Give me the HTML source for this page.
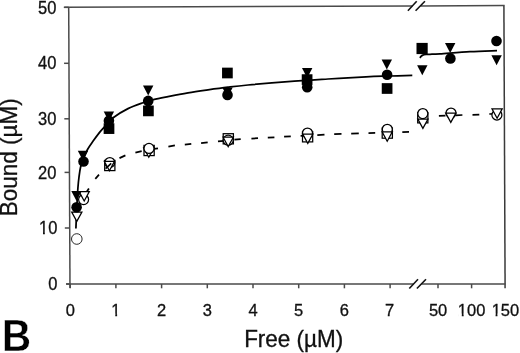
<!DOCTYPE html>
<html><head><meta charset="utf-8"><style>
html,body{margin:0;padding:0;background:#fff;}
body{width:520px;height:353px;overflow:hidden;font-family:"Liberation Sans",sans-serif;}
svg{display:block;}
</style></head><body>
<svg width="520" height="353" viewBox="0 0 520 353" style="will-change:transform">
<rect width="520" height="353" fill="#fff"/>
<line x1="68.7" y1="7.3" x2="70.0" y2="288" stroke="#4a4a4a" stroke-width="1.5"/>
<line x1="503.9" y1="5.6" x2="505.1" y2="288.3" stroke="#3a3a3a" stroke-width="1.5"/>
<line x1="64.3" y1="7.3" x2="412.3" y2="6.05" stroke="#4a4a4a" stroke-width="1.5"/>
<line x1="420.5" y1="6.0" x2="504.6" y2="5.6" stroke="#4a4a4a" stroke-width="1.5"/>
<line x1="66.2" y1="284" x2="413.6" y2="284" stroke="#4a4a4a" stroke-width="1.5"/>
<line x1="421.4" y1="284" x2="505.5" y2="284" stroke="#4a4a4a" stroke-width="1.5"/>
<line x1="409.3" y1="288.5" x2="418.0" y2="279.2" stroke="#111" stroke-width="1.6"/>
<line x1="416.9" y1="288.5" x2="426.0" y2="279.2" stroke="#111" stroke-width="1.6"/>
<line x1="407.9" y1="10.8" x2="416.7" y2="1.3" stroke="#111" stroke-width="1.6"/>
<line x1="415.6" y1="10.8" x2="424.9" y2="1.3" stroke="#111" stroke-width="1.6"/>
<line x1="63.80" y1="7.35" x2="68.70" y2="7.35" stroke="#4a4a4a" stroke-width="1.5"/>
<line x1="64.06" y1="63.3" x2="68.96" y2="63.3" stroke="#4a4a4a" stroke-width="1.5"/>
<line x1="64.32" y1="118.8" x2="69.22" y2="118.8" stroke="#4a4a4a" stroke-width="1.5"/>
<line x1="64.56" y1="172.4" x2="69.46" y2="172.4" stroke="#4a4a4a" stroke-width="1.5"/>
<line x1="64.82" y1="228.0" x2="69.72" y2="228.0" stroke="#4a4a4a" stroke-width="1.5"/>
<line x1="65.98" y1="284" x2="69.98" y2="284" stroke="#4a4a4a" stroke-width="1.5"/>
<line x1="70.20" y1="284" x2="70.20" y2="288.3" stroke="#4a4a4a" stroke-width="1.5"/>
<line x1="115.90" y1="284" x2="115.90" y2="288.3" stroke="#4a4a4a" stroke-width="1.5"/>
<line x1="161.60" y1="284" x2="161.60" y2="288.3" stroke="#4a4a4a" stroke-width="1.5"/>
<line x1="207.30" y1="284" x2="207.30" y2="288.3" stroke="#4a4a4a" stroke-width="1.5"/>
<line x1="253.00" y1="284" x2="253.00" y2="288.3" stroke="#4a4a4a" stroke-width="1.5"/>
<line x1="298.70" y1="284" x2="298.70" y2="288.3" stroke="#4a4a4a" stroke-width="1.5"/>
<line x1="344.40" y1="284" x2="344.40" y2="288.3" stroke="#4a4a4a" stroke-width="1.5"/>
<line x1="390.10" y1="284" x2="390.10" y2="288.3" stroke="#4a4a4a" stroke-width="1.5"/>
<line x1="438.00" y1="284" x2="438.00" y2="288.3" stroke="#4a4a4a" stroke-width="1.5"/>
<line x1="471.60" y1="284" x2="471.60" y2="288.3" stroke="#4a4a4a" stroke-width="1.5"/>
<text transform="translate(56.40,13.85) scale(1.0,1.07)" font-family="&quot;Liberation Sans&quot;, sans-serif" font-size="16.5" text-anchor="end" fill="#111" stroke="#111" stroke-width="0.3">50</text>
<text transform="translate(56.40,69.40) scale(1.0,1.07)" font-family="&quot;Liberation Sans&quot;, sans-serif" font-size="16.5" text-anchor="end" fill="#111" stroke="#111" stroke-width="0.3">40</text>
<text transform="translate(56.40,124.90) scale(1.0,1.07)" font-family="&quot;Liberation Sans&quot;, sans-serif" font-size="16.5" text-anchor="end" fill="#111" stroke="#111" stroke-width="0.3">30</text>
<text transform="translate(56.40,178.50) scale(1.0,1.07)" font-family="&quot;Liberation Sans&quot;, sans-serif" font-size="16.5" text-anchor="end" fill="#111" stroke="#111" stroke-width="0.3">20</text>
<text transform="translate(57.40,233.70) scale(1.0,1.07)" font-family="&quot;Liberation Sans&quot;, sans-serif" font-size="16.5" text-anchor="end" fill="#111" stroke="#111" stroke-width="0.3">10</text>
<rect x="39.46" y="231.83" width="3.54" height="3.62" fill="#fff"/>
<rect x="44.85" y="231.83" width="3.81" height="3.62" fill="#fff"/>
<text transform="translate(57.40,290.10) scale(1.0,1.07)" font-family="&quot;Liberation Sans&quot;, sans-serif" font-size="16.5" text-anchor="end" fill="#111" stroke="#111" stroke-width="0.3">0</text>
<text transform="translate(70.40,315.50) scale(1.0,1.05)" font-family="&quot;Liberation Sans&quot;, sans-serif" font-size="16.5" text-anchor="middle" fill="#111" stroke="#111" stroke-width="0.3">0</text>
<text transform="translate(115.90,315.50) scale(1.0,1.05)" font-family="&quot;Liberation Sans&quot;, sans-serif" font-size="16.5" text-anchor="middle" fill="#111" stroke="#111" stroke-width="0.3">1</text>
<rect x="111.72" y="313.66" width="3.54" height="3.59" fill="#fff"/>
<rect x="117.12" y="313.66" width="3.81" height="3.59" fill="#fff"/>
<text transform="translate(161.60,315.50) scale(1.0,1.05)" font-family="&quot;Liberation Sans&quot;, sans-serif" font-size="16.5" text-anchor="middle" fill="#111" stroke="#111" stroke-width="0.3">2</text>
<text transform="translate(207.30,315.50) scale(1.0,1.05)" font-family="&quot;Liberation Sans&quot;, sans-serif" font-size="16.5" text-anchor="middle" fill="#111" stroke="#111" stroke-width="0.3">3</text>
<text transform="translate(253.00,315.50) scale(1.0,1.05)" font-family="&quot;Liberation Sans&quot;, sans-serif" font-size="16.5" text-anchor="middle" fill="#111" stroke="#111" stroke-width="0.3">4</text>
<text transform="translate(298.70,315.50) scale(1.0,1.05)" font-family="&quot;Liberation Sans&quot;, sans-serif" font-size="16.5" text-anchor="middle" fill="#111" stroke="#111" stroke-width="0.3">5</text>
<text transform="translate(344.40,315.50) scale(1.0,1.05)" font-family="&quot;Liberation Sans&quot;, sans-serif" font-size="16.5" text-anchor="middle" fill="#111" stroke="#111" stroke-width="0.3">6</text>
<text transform="translate(389.60,315.50) scale(1.0,1.05)" font-family="&quot;Liberation Sans&quot;, sans-serif" font-size="16.5" text-anchor="middle" fill="#111" stroke="#111" stroke-width="0.3">7</text>
<text transform="translate(438.10,315.50) scale(1.0,1.05)" font-family="&quot;Liberation Sans&quot;, sans-serif" font-size="16.5" text-anchor="middle" fill="#111" stroke="#111" stroke-width="0.3">50</text>
<text transform="translate(471.60,315.50) scale(1.0,1.05)" font-family="&quot;Liberation Sans&quot;, sans-serif" font-size="16.5" text-anchor="middle" fill="#111" stroke="#111" stroke-width="0.3">100</text>
<rect x="458.24" y="313.66" width="3.54" height="3.59" fill="#fff"/>
<rect x="463.64" y="313.66" width="3.81" height="3.59" fill="#fff"/>
<text transform="translate(505.40,315.50) scale(1.0,1.05)" font-family="&quot;Liberation Sans&quot;, sans-serif" font-size="16.5" text-anchor="middle" fill="#111" stroke="#111" stroke-width="0.3">150</text>
<rect x="492.04" y="313.66" width="3.54" height="3.59" fill="#fff"/>
<rect x="497.44" y="313.66" width="3.81" height="3.59" fill="#fff"/>
<text transform="translate(293.70,346.60) scale(1.0,1.04)" font-family="&quot;Liberation Sans&quot;, sans-serif" font-size="22.5" text-anchor="middle" fill="#111" stroke="#111" stroke-width="0.3">Free (µM)</text>
<text transform="translate(17.30,157.30) rotate(-90) scale(1.0,1.04)" font-family="&quot;Liberation Sans&quot;, sans-serif" font-size="22.5" text-anchor="middle" fill="#111" stroke="#111" stroke-width="0.3">Bound (µM)</text>
<text transform="translate(2.10,350.70) scale(0.98,1.07)" font-family="&quot;Liberation Sans&quot;, sans-serif" font-size="41" font-weight="bold" text-anchor="start" fill="#000" stroke="#fff" stroke-width="0.3">B</text>
<path d="M75.90,228.50 C76.00,226.08 76.28,218.75 76.50,214.00 C76.72,209.25 76.97,204.33 77.20,200.00 C77.43,195.67 77.60,191.83 77.90,188.00 C78.20,184.17 78.55,180.50 79.00,177.00 C79.45,173.50 79.85,170.08 80.60,167.00 C81.35,163.92 82.35,161.42 83.50,158.50 C84.65,155.58 85.83,152.48 87.50,149.50 C89.17,146.52 91.52,143.42 93.50,140.60 C95.48,137.78 97.65,134.80 99.40,132.60 C101.15,130.40 101.65,129.92 104.00,127.40 C106.35,124.88 109.50,120.63 113.50,117.50 C117.50,114.37 123.08,111.07 128.00,108.60 C132.92,106.13 138.77,104.20 143.00,102.70 C147.23,101.20 149.23,100.62 153.40,99.60 C157.57,98.58 162.23,97.72 168.00,96.60 C173.77,95.48 181.33,94.02 188.00,92.90 C194.67,91.78 201.33,90.85 208.00,89.90 C214.67,88.95 221.33,88.02 228.00,87.20 C234.67,86.38 238.00,85.93 248.00,85.00 C258.00,84.07 274.67,82.60 288.00,81.60 C301.33,80.60 315.00,79.80 328.00,79.00 C341.00,78.20 355.67,77.30 366.00,76.80 C376.33,76.30 382.28,76.25 390.00,76.00 C397.72,75.75 408.58,75.42 412.30,75.30" fill="none" stroke="#000" stroke-width="1.75" stroke-linecap="butt"/>
<path d="M420.00,58.00 C420.17,57.73 420.53,56.88 421.00,56.40 C421.47,55.92 421.97,55.42 422.80,55.10 C423.63,54.78 424.80,54.63 426.00,54.50 C427.20,54.37 427.67,54.42 430.00,54.30 C432.33,54.18 433.33,54.25 440.00,53.80 C446.67,53.35 460.50,52.13 470.00,51.60 C479.50,51.07 492.50,50.77 497.00,50.60" fill="none" stroke="#000" stroke-width="1.75"/>
<line x1="85.9" y1="193.0" x2="88.9" y2="188.5" stroke="#000" stroke-width="1.75"/>
<line x1="95.3" y1="178.8" x2="99.0" y2="174.7" stroke="#000" stroke-width="1.75"/>
<line x1="104.5" y1="169.8" x2="109" y2="166" stroke="#000" stroke-width="1.75"/>
<line x1="119.5" y1="158.1" x2="125.4" y2="155.4" stroke="#000" stroke-width="1.75"/>
<line x1="135.4" y1="152.6" x2="141.7" y2="151.2" stroke="#000" stroke-width="1.75"/>
<line x1="152.0" y1="149.1" x2="158.0" y2="148.3" stroke="#000" stroke-width="1.75"/>
<line x1="168.4" y1="146.6" x2="174.9" y2="145.4" stroke="#000" stroke-width="1.75"/>
<line x1="184.8" y1="144.6" x2="191.3" y2="143.8" stroke="#000" stroke-width="1.75"/>
<line x1="201.1" y1="143.2" x2="207.7" y2="142.3" stroke="#000" stroke-width="1.75"/>
<line x1="218.0" y1="141.3" x2="224.0" y2="140.8" stroke="#000" stroke-width="1.75"/>
<line x1="234.4" y1="139.7" x2="240.7" y2="139.2" stroke="#000" stroke-width="1.75"/>
<line x1="251.4" y1="138.6" x2="258.0" y2="138.2" stroke="#000" stroke-width="1.75"/>
<line x1="267.8" y1="137.7" x2="274.4" y2="137.3" stroke="#000" stroke-width="1.75"/>
<line x1="284.1" y1="136.7" x2="290.8" y2="136.3" stroke="#000" stroke-width="1.75"/>
<line x1="300.6" y1="135.8" x2="307.2" y2="135.4" stroke="#000" stroke-width="1.75"/>
<line x1="317.3" y1="135.2" x2="324.5" y2="134.6" stroke="#000" stroke-width="1.75"/>
<line x1="334.2" y1="134.2" x2="341.5" y2="133.9" stroke="#000" stroke-width="1.75"/>
<line x1="351.2" y1="133.7" x2="358.8" y2="133.4" stroke="#000" stroke-width="1.75"/>
<line x1="368.5" y1="133.1" x2="375.2" y2="132.9" stroke="#000" stroke-width="1.75"/>
<line x1="385.5" y1="132.6" x2="392.3" y2="132.4" stroke="#000" stroke-width="1.75"/>
<line x1="402.3" y1="132.1" x2="409.0" y2="131.9" stroke="#000" stroke-width="1.75"/>
<line x1="438.9" y1="115.9" x2="445.5" y2="115.6" stroke="#000" stroke-width="1.75"/>
<line x1="455.9" y1="115.3" x2="462.4" y2="115.0" stroke="#000" stroke-width="1.75"/>
<line x1="472.5" y1="114.8" x2="479.3" y2="114.6" stroke="#000" stroke-width="1.75"/>
<line x1="489.3" y1="114.0" x2="495.5" y2="113.8" stroke="#000" stroke-width="1.75"/>
<circle cx="76.8" cy="239.0" r="5.3" fill="#fff" stroke="#2a2a2a" stroke-width="1.0"/>
<polygon points="71.70,212.00 81.90,212.00 76.80,221.40" fill="#fff" stroke="#000" stroke-width="1.25" stroke-linejoin="miter"/>
<circle cx="83.6" cy="199.6" r="5.0" fill="#fff" stroke="#000" stroke-width="1.25"/>
<polygon points="79.10,191.60 89.30,191.60 84.20,201.00" fill="#fff" stroke="#000" stroke-width="1.25" stroke-linejoin="miter"/>
<rect x="104.70" y="160.40" width="10.2" height="10.2" fill="#fff" stroke="#000" stroke-width="1.25"/>
<circle cx="109.8" cy="162.6" r="5.0" fill="#fff" stroke="#000" stroke-width="1.25"/>
<polygon points="104.30,161.40 114.50,161.40 109.40,170.80" fill="#fff" stroke="#000" stroke-width="1.25" stroke-linejoin="miter"/>
<rect x="144.00" y="145.40" width="10.2" height="10.2" fill="#fff" stroke="#000" stroke-width="1.25"/>
<polygon points="143.70,147.80 153.90,147.80 148.80,157.20" fill="#fff" stroke="#000" stroke-width="1.25" stroke-linejoin="miter"/>
<circle cx="149.0" cy="148.4" r="5.0" fill="#fff" stroke="#000" stroke-width="1.25"/>
<rect x="223.20" y="133.70" width="10.2" height="10.2" fill="#fff" stroke="#000" stroke-width="1.25"/>
<circle cx="228.2" cy="140.2" r="5.0" fill="#fff" stroke="#000" stroke-width="1.25"/>
<polygon points="223.10,137.20 233.30,137.20 228.20,146.60" fill="#fff" stroke="#000" stroke-width="1.25" stroke-linejoin="miter"/>
<rect x="302.50" y="131.70" width="10.2" height="10.2" fill="#fff" stroke="#000" stroke-width="1.25"/>
<circle cx="307.5" cy="133.0" r="5.0" fill="#fff" stroke="#000" stroke-width="1.25"/>
<polygon points="302.70,134.00 312.90,134.00 307.80,143.40" fill="#fff" stroke="#000" stroke-width="1.25" stroke-linejoin="miter"/>
<rect x="382.20" y="128.00" width="10.2" height="10.2" fill="#fff" stroke="#000" stroke-width="1.25"/>
<circle cx="387.3" cy="129.3" r="5.0" fill="#fff" stroke="#000" stroke-width="1.25"/>
<polygon points="382.10,131.80 392.30,131.80 387.20,141.20" fill="#fff" stroke="#000" stroke-width="1.25" stroke-linejoin="miter"/>
<rect x="417.70" y="112.70" width="10.2" height="10.2" fill="#fff" stroke="#000" stroke-width="1.25"/>
<circle cx="422.8" cy="113.6" r="5.0" fill="#fff" stroke="#000" stroke-width="1.25"/>
<polygon points="417.80,119.00 428.00,119.00 422.90,128.40" fill="#fff" stroke="#000" stroke-width="1.25" stroke-linejoin="miter"/>
<circle cx="451.0" cy="113.0" r="5.0" fill="#fff" stroke="#000" stroke-width="1.25"/>
<polygon points="445.70,113.00 455.90,113.00 450.80,122.40" fill="#fff" stroke="#000" stroke-width="1.25" stroke-linejoin="miter"/>
<circle cx="496.9" cy="115.0" r="5.0" fill="#fff" stroke="#000" stroke-width="1.25"/>
<polygon points="492.00,108.80 502.20,108.80 497.10,118.20" fill="#fff" stroke="#000" stroke-width="1.25" stroke-linejoin="miter"/>
<line x1="105.6" y1="168.6" x2="111.2" y2="163.4" stroke="#000" stroke-width="1.6"/>
<polygon points="71.30,190.90 81.70,190.90 76.50,200.90" fill="#000"/>
<circle cx="76.6" cy="207.3" r="5.3" fill="#000"/>
<polygon points="77.80,150.70 88.20,150.70 83.00,160.70" fill="#000"/>
<circle cx="83.5" cy="161.5" r="5.3" fill="#000"/>
<polygon points="103.70,111.40 114.10,111.40 108.90,121.40" fill="#000"/>
<circle cx="108.9" cy="120.8" r="5.3" fill="#000"/>
<rect x="103.65" y="123.25" width="10.7" height="10.7" fill="#000"/>
<polygon points="143.00,85.40 153.40,85.40 148.20,95.40" fill="#000"/>
<circle cx="148.2" cy="100.9" r="5.3" fill="#000"/>
<rect x="143.05" y="105.55" width="10.7" height="10.7" fill="#000"/>
<rect x="222.05" y="67.65" width="10.7" height="10.7" fill="#000"/>
<polygon points="222.30,87.40 232.70,87.40 227.50,97.40" fill="#000"/>
<circle cx="227.5" cy="94.9" r="5.3" fill="#000"/>
<polygon points="302.00,67.90 312.40,67.90 307.20,77.90" fill="#000"/>
<rect x="301.75" y="74.25" width="10.7" height="10.7" fill="#000"/>
<circle cx="307.2" cy="87.3" r="5.3" fill="#000"/>
<polygon points="381.60,59.40 392.00,59.40 386.80,69.40" fill="#000"/>
<circle cx="387.1" cy="74.8" r="5.3" fill="#000"/>
<rect x="381.75" y="83.15" width="10.7" height="10.7" fill="#000"/>
<polygon points="417.10,65.30 427.50,65.30 422.30,75.30" fill="#000"/>
<polygon points="445.00,43.00 455.40,43.00 450.20,53.00" fill="#000"/>
<circle cx="450.4" cy="58.4" r="5.3" fill="#000"/>
<circle cx="496.5" cy="41.0" r="5.3" fill="#000"/>
<polygon points="491.40,55.30 501.80,55.30 496.60,65.30" fill="#000"/>
<rect x="416.5" y="42.9" width="11.2" height="11.2" fill="#000"/>
</svg>
</body></html>
